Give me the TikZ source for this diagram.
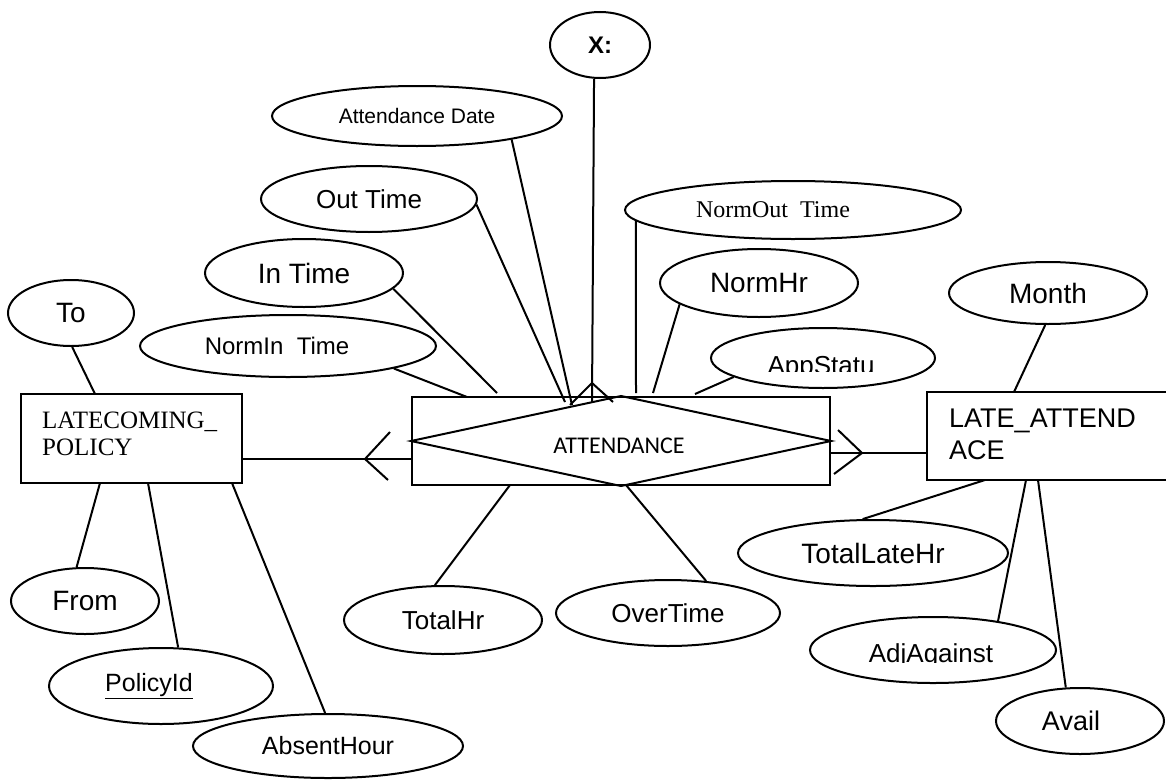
\documentclass[tikz,border=0pt]{standalone}
\usepackage{fontspec}
\setmainfont{Liberation Sans}
\newfontfamily\tnrfont{Liberation Serif}
\newfontfamily\calfont{Carlito}
\usetikzlibrary{shapes.geometric}
\newcommand{\fs}[1]{\fontsize{#1}{#1}\selectfont}
\begin{document}
\begin{tikzpicture}[x=1pt,y=-1pt,
  attr/.style={draw, ellipse, line width=2pt, inner sep=0pt, font=\fs{26}},
  ent/.style={draw, rectangle, line width=2pt, inner sep=0pt},
  conn/.style={line width=2pt},
  lbl/.style={inner sep=0pt}]
\useasboundingbox (0,0) rectangle (1166,779);

% entities / relationship
\node[ent, minimum width=221pt, minimum height=89pt] (lcp) at (131.5,438.5) {};
\node[lbl, anchor=base west, font=\tnrfont\fs{25}] (lcptxt) at (42,428) {LATECOMING\_};
\node[lbl, anchor=base west, font=\tnrfont\fs{25}] (lcptxt2) at (42,455) {POLICY};

\node[ent, minimum width=418pt, minimum height=88pt] (att) at (621,441) {};
\draw[conn] (att.west) -- (att.north) -- (att.east) -- (att.south) -- cycle;
\node[lbl, font=\calfont\fs{24}] (atttxt) at (619,446) {ATTENDANCE};

\node[ent, minimum width=250pt, minimum height=88pt] (lae) at (1052,436) {};
\node[lbl, anchor=base west, font=\fs{27}] (laetxt) at (949,427) {LATE\_ATTEND};
\node[lbl, anchor=base west, font=\fs{27}] (laetxt2) at (949,459) {ACE};

% attributes
\node[attr, minimum width=100pt, minimum height=66pt, font=\bfseries\fs{24}] (xx) at (600,45) {X:};
\node[attr, minimum width=290pt, minimum height=60pt, font=\fs{21}] (adate) at (417,116) {Attendance Date};
\node[attr, minimum width=216pt, minimum height=66pt] (otime) at (369,199) {Out Time};
\node[attr, minimum width=198pt, minimum height=68pt, font=\fs{28}] (itime) at (304,273) {In Time};
\node[attr, minimum width=296pt, minimum height=62pt, font=\fs{24}] (nitime) at (288,346) {NormIn\ \ Time\hspace*{22pt}};
\node[attr, minimum width=126pt, minimum height=66pt, font=\fs{28}] (to) at (71,313) {To};
\node[attr, minimum width=336pt, minimum height=58pt, font=\tnrfont\fs{24}] (notime) at (793,210) {NormOut\ \ Time\hspace*{40pt}};
\node[attr, minimum width=198pt, minimum height=68pt, font=\fs{28}] (normhr) at (759,283) {NormHr};
\node[attr, minimum width=224pt, minimum height=60pt] (appst) at (823,358) {};
\begin{scope}
  \clip (710,340) rectangle (935,371);
  \node[lbl, anchor=base, font=\fs{26}] (appsttxt) at (821,374) {AppStatu};
\end{scope}
\node[attr, minimum width=198pt, minimum height=62pt, font=\fs{28}] (month) at (1048,293) {Month};
\node[attr, minimum width=270pt, minimum height=66pt, font=\fs{28}] (tlate) at (873,553) {TotalLateHr};
\node[attr, minimum width=246pt, minimum height=66pt] (adj) at (933,650) {};
\begin{scope}
  \clip (815,630) rectangle (1050,662.5);
  \node[lbl, anchor=base, font=\fs{26}] (adjtxt) at (931,662) {AdjAgainst};
\end{scope}
\node[attr, minimum width=168pt, minimum height=66pt, font=\fs{27}] (avail) at (1080,721) {Avail\hspace*{18pt}};
\node[attr, minimum width=198pt, minimum height=68pt] (thr) at (443,620) {TotalHr};
\node[attr, minimum width=224pt, minimum height=66pt] (ot) at (668,613) {OverTime};
\node[attr, minimum width=148pt, minimum height=66pt, font=\fs{28}] (from) at (85,601) {From};
\node[attr, minimum width=224pt, minimum height=76pt, font=\fs{25}] (pid) at (161,686) {\underline{PolicyId}\hspace*{24pt}};
\node[attr, minimum width=270pt, minimum height=64pt, font=\fs{25}] (absh) at (328,746) {AbsentHour};

% connector end points
\coordinate (c-nitime) at (467,397);
\coordinate (c-itime) at (497,393);
\coordinate (c-otime) at (565,402);
\coordinate (c-adate) at (572,405);
\coordinate (c-xx) at (592,402);
\coordinate (c-notime) at (636,393);
\coordinate (c-normhr) at (653,393);
\coordinate (c-appst) at (695,394);
\coordinate (c-thr) at (510,485);
\coordinate (c-ot) at (626,485);
\coordinate (c-to) at (95,394);
\coordinate (c-from) at (100,483);
\coordinate (c-pid) at (148,483);
\coordinate (c-absh) at (232,483);
\coordinate (c-month) at (1014,392);
\coordinate (c-tlate) at (985,480);
\coordinate (c-adj) at (1026,480);
\coordinate (c-avail) at (1038,480);

% attribute connectors
\draw[conn] (nitime.-12) -- (c-nitime);
\draw[conn] (itime.-10) -- (c-itime);
\draw[conn] (otime.-3) -- (c-otime);
\draw[conn] (adate.-14) -- (c-adate);
\draw[conn] (xx.-100) -- (c-xx);
\draw[conn] (notime.184) -- (c-notime);
\draw[conn] (normhr.195) -- (c-normhr);
\draw[conn] (appst.192) -- (c-appst);
\draw[conn] (thr.103) -- (c-thr);
\draw[conn] (ot.40) -- (c-ot);
\draw[conn] (to.-88) -- (c-to);
\draw[conn] (from.104) -- (c-from);
\draw[conn] (pid.66) -- (c-pid);
\draw[conn] (absh.95) -- (c-absh);
\draw[conn] (month.-95) -- (c-month);
\draw[conn] (tlate.107) -- (c-tlate);
\draw[conn] (adj.24) -- (c-adj);
\draw[conn] (avail.113) -- (c-avail);

% crow's feet
\coordinate (cft0) at (592,383);
\coordinate (cft1) at (570,405);
\coordinate (cft2) at (613,402);
\draw[conn] (cft1) -- (cft0) -- (cft2);

\coordinate (cfl0) at (365,459);
\coordinate (cfl1) at (390,432);
\coordinate (cfl2) at (388,480);
\draw[conn] (cfl1) -- (cfl0) -- (cfl2);

\coordinate (cfr0) at (862,453);
\coordinate (cfr1) at (838,430);
\coordinate (cfr2) at (834,474);
\draw[conn] (cfr1) -- (cfr0) -- (cfr2);

% relationship lines
\draw[conn] (lcp.east |- cfl0) -- (att.west |- cfl0);
\draw[conn] (att.east |- cfr0) -- (lae.west |- cfr0);
\end{tikzpicture}
\end{document}
